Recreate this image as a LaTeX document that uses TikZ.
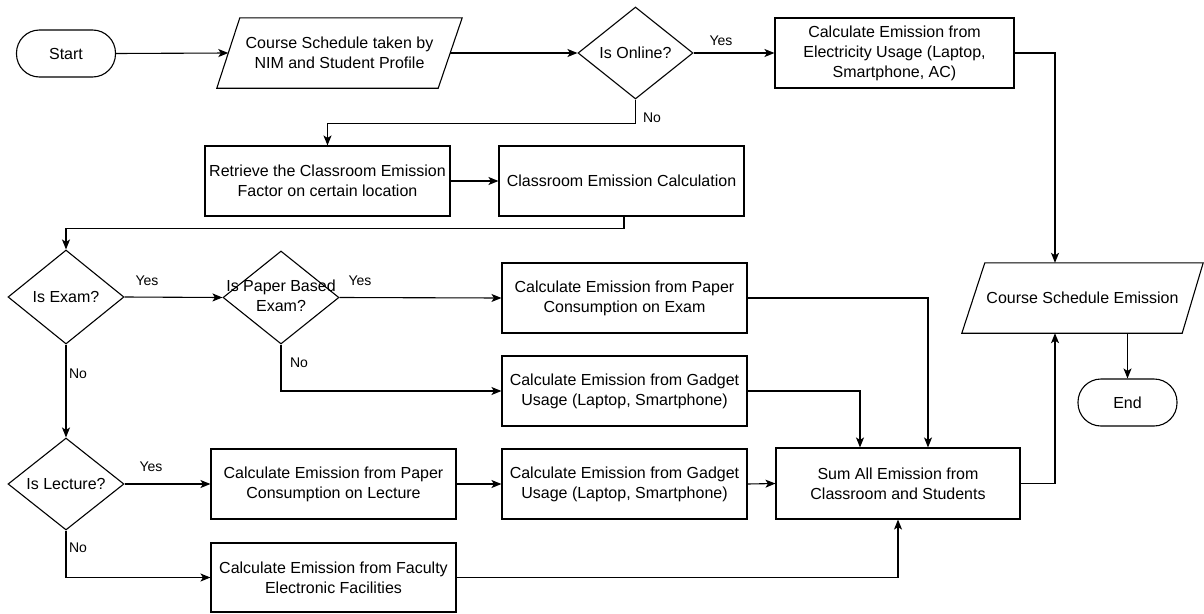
\documentclass[tikz,border=0pt]{standalone}
\usepackage{fontspec}
\setmainfont{Liberation Sans}
\usetikzlibrary{shapes.geometric,arrows.meta,calc}
\begin{document}
\begin{tikzpicture}[x=1pt,y=-1pt,
  font=\fontsize{16}{20}\selectfont,
  shp/.style={draw=black,line width=1.1pt},
  box/.style={shp,rectangle,align=center,inner sep=2pt,minimum width=245pt,minimum height=70pt},
  term/.style={shp,rectangle,rounded corners=23pt,minimum width=99pt,minimum height=47pt},
  dec/.style={shp,diamond,inner sep=0pt,minimum width=116pt,minimum height=92pt},
  txt/.style={rectangle,align=center,inner sep=0pt},
  arr/.style={line width=1.1pt,-{Stealth[length=10pt,width=8pt,inset=2.5pt]}},
  ln/.style={line width=1.1pt},
  lbl/.style={font=\fontsize{14}{16}\selectfont,inner sep=0pt}
]
\useasboundingbox (0,0) rectangle (1204,613);

% nodes
\node[term] (start) at (66,53.5) {Start};
\node[txt,minimum width=245pt,minimum height=70pt] (in1) at (339.5,53) {Course Schedule taken by\\NIM and Student Profile};
\draw[shp] ($(in1.north west)+(23,0)$) -- (in1.north east) -- ($(in1.south east)+(-24,0)$) -- (in1.south west) -- cycle;
\node[dec,minimum width=115pt] (online) at (635.5,53) {\makebox[0pt]{Is Online?}};
\node[box,minimum width=239pt] (elec) at (894.5,53) {Calculate Emission from\\Electricity Usage (Laptop,\\Smartphone, AC)};
\node[box] (retr) at (327.5,181) {Retrieve the Classroom Emission\\Factor on certain location};
\node[box] (cls) at (621.5,181) {Classroom Emission Calculation};
\node[dec,minimum height=94pt] (exam) at (66,297) {\makebox[0pt]{Is Exam?}};
\node[dec,minimum height=93pt] (paper) at (281,297.5) {\makebox[0pt]{\begin{tabular}{@{}c@{}}Is Paper Based\\Exam?\end{tabular}}};
\node[box] (pexam) at (624.5,298) {Calculate Emission from Paper\\Consumption on Exam};
\node[box] (gad1) at (624.5,391) {Calculate Emission from Gadget\\Usage (Laptop, Smartphone)};
\node[txt,minimum width=241pt,minimum height=70pt] (out) at (1082.5,298) {Course Schedule Emission};
\draw[shp] ($(out.north west)+(23,0)$) -- (out.north east) -- ($(out.south east)+(-21,0)$) -- (out.south west) -- cycle;
\node[term] (end) at (1127.5,402.5) {End};
\node[dec] (lect) at (66,484) {\makebox[0pt]{Is Lecture?}};
\node[box] (plect) at (333.5,484) {Calculate Emission from Paper\\Consumption on Lecture};
\node[box] (gad2) at (624.5,484) {Calculate Emission from Gadget\\Usage (Laptop, Smartphone)};
\node[box,minimum width=244pt,minimum height=71pt] (sum) at (898,483.5) {Sum All Emission from\\Classroom and Students};
\node[box,minimum height=69pt] (fac) at (333.5,577.5) {Calculate Emission from Faculty\\Electronic Facilities};

% labels
\node[lbl] (l1) at (721,41) {Yes};
\node[lbl] (l2) at (652,118) {No};
\node[lbl] (l3) at (147,281) {Yes};
\node[lbl] (l4) at (360,281) {Yes};
\node[lbl] (l5) at (78,374) {No};
\node[lbl] (l6) at (299,363) {No};
\node[lbl] (l7) at (151,467) {Yes};
\node[lbl] (l8) at (78,548) {No};

% connectors
\draw[arr] (start.east) -- ($(in1.west)+(11.5,0)$);
\draw[arr] ($(in1.east)+(-12,0)$) -- (online.west);
\draw[arr] (online.east) -- (elec.west);
\draw[arr] (elec.east) -| ($(out.north)+(-27.5,0)$);
\draw[arr] (online.south) -- ++(0,24) -| (retr.north);
\draw[arr] (retr.east) -- (cls.west);
\draw[arr] ($(cls.south)+(2.5,0)$) -- ++(0,11.5) -| (exam.north);
\draw[arr] (exam.east) -- (paper.west);
\draw[arr] (paper.east) -- (pexam.west);
\draw[arr] (paper.south) |- (gad1.west);
\draw[arr] (pexam.east) -| ($(sum.north)+(30,0)$);
\draw[arr] (gad1.east) -| ($(sum.north)+(-38,0)$);
\draw[arr] (exam.south) -- (lect.north);
\draw[arr] (lect.east) -- (plect.west);
\draw[arr] (plect.east) -- (gad2.west);
\draw[arr] (gad2.east) -- (sum.west);
\draw[arr] (lect.south) |- (fac.west);
\draw[arr] (fac.east) -| (sum.south);
\draw[arr] (sum.east) -| ($(out.south)+(-27.5,0)$);
\draw[arr] (end.north |- out.south) -- (end.north);
\end{tikzpicture}
\end{document}
